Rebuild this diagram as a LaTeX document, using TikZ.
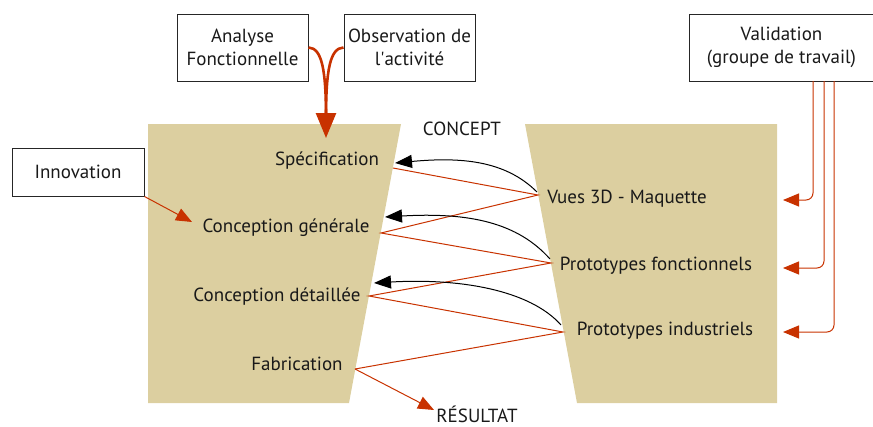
\documentclass[tikz,border=0pt]{standalone}
\usepackage{fontspec}
\setmainfont{PT Sans}
\usetikzlibrary{arrows.meta}
\definecolor{beige}{HTML}{DCCFA0}
\definecolor{rouge}{HTML}{C83200}
\tikzset{
  lbl/.style={inner sep=0pt, font=\fontsize{19}{23}\selectfont, text=black!90},
  boite/.style={draw=black!85, line width=1pt, fill=white, minimum width=131pt, minimum height=67pt, align=center, inner sep=0pt, font=\fontsize{19}{23}\selectfont, text=black!90},
  rl/.style={draw=rouge, line width=1pt},
  fleche/.style={-{Triangle[length=16pt,width=13pt]}},
  noire/.style={draw=black, line width=1pt, -{Triangle[length=17pt,width=13pt]}},
}
\begin{document}
\begin{tikzpicture}[x=1pt,y=-1pt]
\useasboundingbox (0,0) rectangle (873,426);
% trapezoids
\fill[beige] (148,124) -- (401,124) -- (349,403) -- (148,403) -- cycle;
\fill[beige] (525,124) -- (777,124) -- (777,403) -- (577,403) -- cycle;
% boxes
\node[boite] (af) at (242.5,47.5) {Analyse\\Fonctionnelle};
\node[boite] (obs) at (409.5,47.5) {Observation de\\l\textquotesingle activité};
\node[boite, minimum width=132pt, minimum height=48pt] (inno) at (78,172) {Innovation};
\node[boite, minimum width=184pt] (val) at (781.5,47.5) {Validation\\(groupe de travail)};
% labels
\node[lbl] (concept) at (462,129) {CONCEPT};
\node[lbl, anchor=base] (res) at (477,422) {RÉSULTAT};
\node[lbl] (spec) at (327,161) {Spécification};
\node[lbl] (cg) at (286,228) {Conception générale};
\node[lbl] (cd) at (277,297) {Conception détaillée};
\node[lbl] (fab) at (297,364) {Fabrication};
\node[lbl] (vues) at (627,199) {Vues 3D - Maquette};
\node[lbl] (pf) at (656,266) {Prototypes fonctionnels};
\node[lbl] (pi) at (665,331) {Prototypes industriels};
% connection points
\coordinate (specR) at (393,168);
\coordinate (specT) at (395,163);
\coordinate (cgR) at (381,233);
\coordinate (cgT) at (385,217);
\coordinate (cdR) at (369,296);
\coordinate (cdT) at (374,283);
\coordinate (fabR) at (355,369);
\coordinate (vuesL) at (538,195);
\coordinate (vuesC) at (537,192);
\coordinate (pfL) at (551,263);
\coordinate (pfC) at (550,259);
\coordinate (piL) at (563,332);
\coordinate (piC) at (561,325);
\coordinate (resT) at (434,410);
\coordinate (cgIn) at (192,222);
\coordinate (specIn) at (326,138);
% zigzag
\draw[rl] (specR) -- (vuesL) -- (cgR) -- (pfL) -- (cdR) -- (piL) -- (fabR);
\draw[rl, fleche] (fabR) -- (resT);
% black return arrows
\draw[noire] (vuesC) .. controls (505,160) and (460,157) .. (specT);
\draw[noire] (pfC) .. controls (518,223) and (470,212) .. (cgT);
\draw[noire] (piC) .. controls (530,290) and (460,278) .. (cdT);
% innovation
\draw[rl, fleche] (inno.south east) -- (cgIn);
% top inputs
\draw[draw=rouge, line width=2.6pt] (af.east) .. controls (322,48) and (326,70) .. (326,118);
\draw[draw=rouge, line width=2.6pt] (obs.west) .. controls (330,48) and (326,70) .. (326,118);
\draw[draw=rouge, line width=2.6pt, -{Triangle[length=25pt,width=20pt]}] (326,100) -- (specIn);
% validation
\coordinate (v1) at (813,81);
\coordinate (v2) at (824,81);
\coordinate (v3) at (834,81);
\coordinate (a1) at (783,200);
\coordinate (a2) at (783,268);
\coordinate (a3) at (783,332);
\draw[rl, fleche, rounded corners=7pt] (v1) |- (a1);
\draw[rl, fleche, rounded corners=7pt] (v2) |- (a2);
\draw[rl, fleche, rounded corners=7pt] (v3) |- (a3);
\end{tikzpicture}
\end{document}
